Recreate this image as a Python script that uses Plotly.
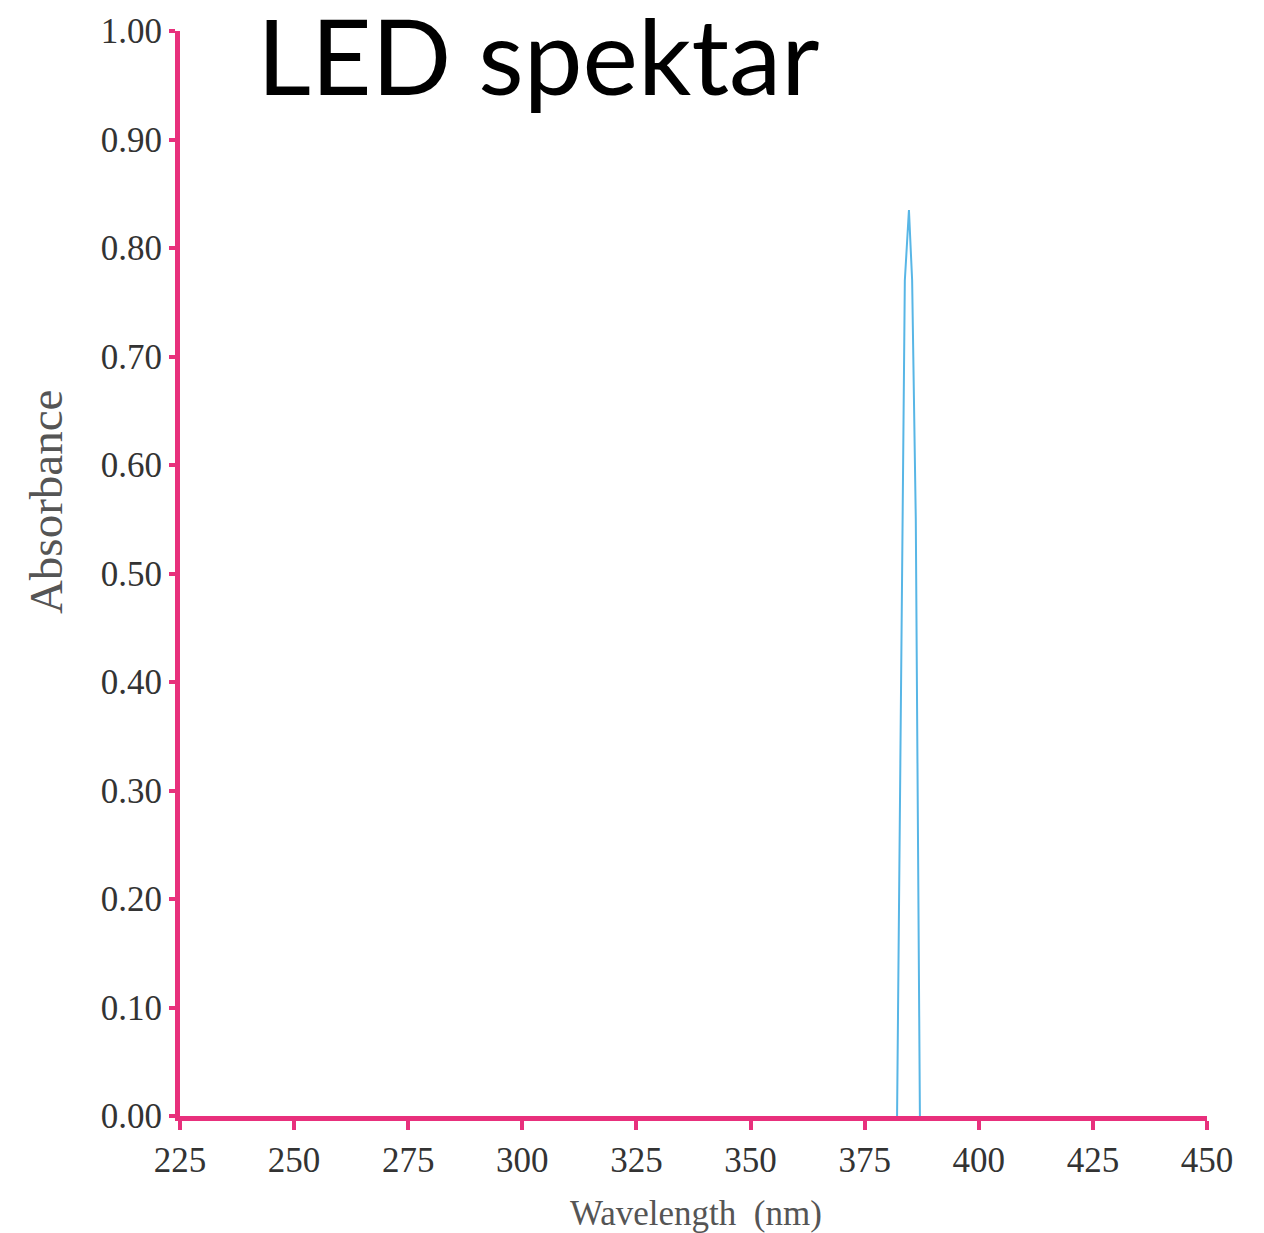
import plotly.graph_objects as go

# Emission spectrum of the LED (wavelength in nm, absorbance units)
wavelength = [382.1, 383.2, 383.8, 384.7, 385.4, 386.2, 387.1]
absorbance = [0.0, 0.55, 0.77, 0.835, 0.77, 0.55, 0.0]

x_ticks = [225, 250, 275, 300, 325, 350, 375, 400, 425, 450]
y_ticks = [0.0, 0.1, 0.2, 0.3, 0.4, 0.5, 0.6, 0.7, 0.8, 0.9, 1.0]

axis_color = "#e8307c"
serif = "Liberation Serif, Times New Roman, serif"

fig = go.Figure()
fig.add_trace(go.Scatter(
    x=wavelength, y=absorbance, mode="lines",
    line=dict(color="#58b6e6", width=2),
    showlegend=False,
))

fig.update_layout(
    width=1264, height=1233,
    margin=dict(l=180, r=57, t=29, b=117),
    paper_bgcolor="white", plot_bgcolor="white",
    font=dict(family=serif, color="#333333"),
)

fig.update_xaxes(
    range=[225, 450], tickvals=x_ticks, ticktext=[str(v) for v in x_ticks],
    showgrid=False, zeroline=False,
    showline=True, linecolor=axis_color, linewidth=5,
    ticks="outside", ticklen=9, tickwidth=4, tickcolor=axis_color,
    tickfont=dict(size=35, color="#333333", family=serif),
)
fig.update_yaxes(
    range=[0, 1.0], tickvals=y_ticks, ticktext=[f"{v:.2f}" for v in y_ticks],
    showgrid=False, zeroline=False,
    showline=True, linecolor=axis_color, linewidth=5,
    ticks="outside", ticklen=6, tickwidth=4, tickcolor=axis_color,
    tickfont=dict(size=35, color="#333333", family=serif),
)

# Axis titles
fig.add_annotation(
    text="Wavelength  (nm)", xref="paper", yref="paper",
    x=0.5024, y=-0.0902, xanchor="center", yanchor="middle",
    showarrow=False, font=dict(size=35, color="#555555", family=serif),
)
fig.add_annotation(
    text="Absorbance", xref="paper", yref="paper",
    x=-0.1305, y=0.5658, xanchor="center", yanchor="middle",
    textangle=-90, showarrow=False,
    font=dict(size=47, color="#555555", family=serif),
)

# Heading
fig.add_annotation(
    text="LED spektar", xref="paper", yref="paper",
    x=0.073, y=0.979, xanchor="left", yanchor="middle",
    showarrow=False,
    font=dict(family="Lato, sans-serif", size=105, color="black"),
)

fig.write_html("out.html")
